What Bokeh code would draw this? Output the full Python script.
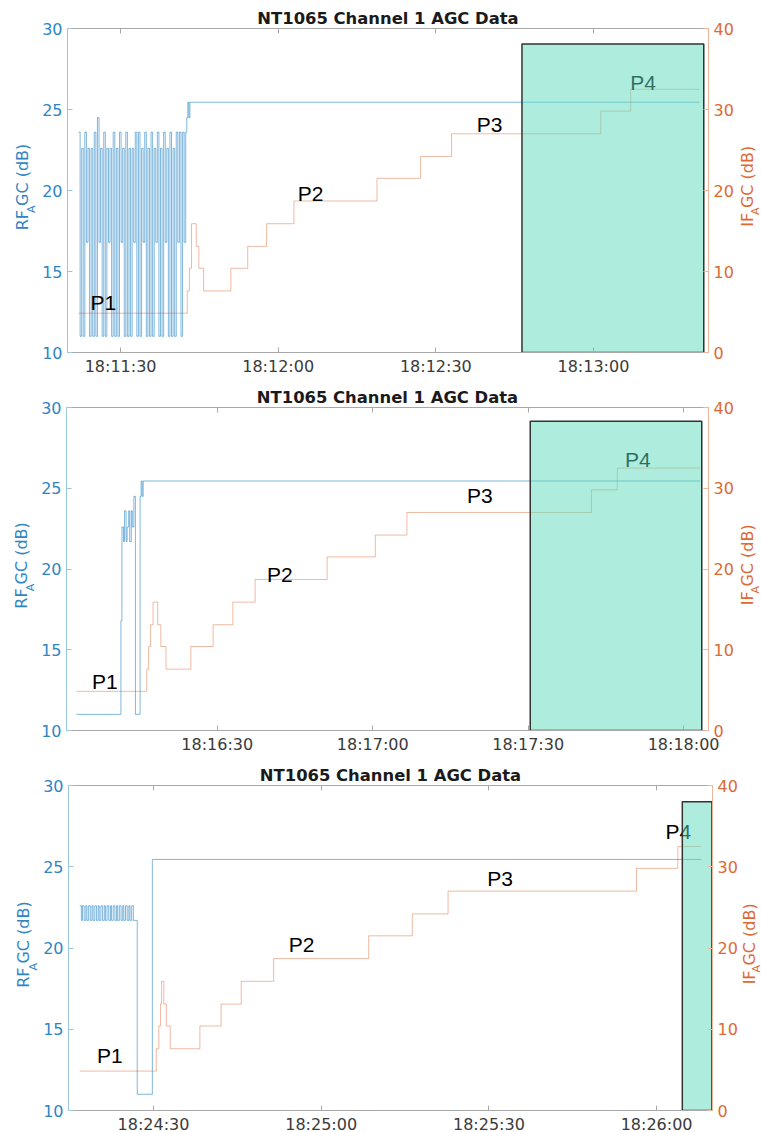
import math
import pandas as pd
from bokeh.plotting import figure
from bokeh.models import (Range1d, LinearAxis, DatetimeAxis, SingleIntervalTicker,
                          DatetimeTickFormatter, ColumnDataSource, CustomJSTickFormatter)
from bokeh.layouts import column, row
from bokeh.core.properties import value
from bokeh.embed import file_html
from bokeh.resources import INLINE

DAY = "2021-01-01 "
TITLE = "NT1065 Channel 1 AGC Data"
POINT_NAMES = ["P1", "P2", "P3", "P4"]
LEFT_LABEL = ["RF", "A", "GC (dB)"]
RIGHT_LABEL = ["IF", "A", "GC (dB)"]

# ---------------- Panel 1 (seconds after 18:11:00) ----------------
p1_base = "18:11:00"
p1_xlim = [19.9, 141.9]
p1_rf_t = [22.0, 22.3, 22.6, 22.9, 23.2, 23.5, 23.8, 24.1, 24.4, 24.7, 25.0, 25.3, 25.6, 25.9,
           26.2, 26.5, 26.8, 27.1, 27.4, 27.7, 28.0, 28.3, 28.6, 28.9, 29.2, 29.5, 29.8, 30.1,
           30.4, 30.7, 31.0, 31.3, 31.6, 31.9, 32.2, 32.5, 32.8, 33.1, 33.4, 33.7, 34.0, 34.3,
           34.6, 34.9, 35.2, 35.5, 35.8, 36.1, 36.4, 36.7, 37.0, 37.3, 37.6, 37.9, 38.2, 38.5,
           38.8, 39.1, 39.4, 39.7, 40.0, 40.3, 40.6, 40.9, 41.2, 41.5, 41.8, 42.1, 42.4, 42.6,
           42.8, 43.0, 43.2, 140.2]
p1_rf_v = [23.6, 11.0, 22.6, 11.0, 23.6, 16.8, 22.6, 11.0, 22.6, 11.0, 23.6, 11.0, 24.5, 16.8,
           22.6, 11.0, 23.6, 11.0, 22.6, 16.8, 22.6, 11.0, 23.6, 11.0, 22.6, 11.0, 23.6, 16.8,
           22.6, 11.0, 23.6, 11.0, 22.6, 11.0, 22.6, 16.8, 23.6, 11.0, 23.6, 11.0, 22.6, 16.8,
           23.6, 11.0, 22.6, 11.0, 23.6, 11.0, 22.6, 16.8, 23.6, 11.0, 22.6, 11.0, 23.6, 16.8,
           22.6, 11.0, 23.6, 11.0, 22.6, 11.0, 23.6, 16.8, 23.6, 11.0, 23.6, 16.8, 23.6, 24.5,
           25.45, 24.5, 25.45, 25.45]
p1_if_t = [22.0, 42.7, 43.1, 43.5, 44.4, 44.9, 45.8, 51.0, 54.2, 57.8, 63.0, 78.8, 87.1, 93.0,
           121.4, 127.1, 140.2]
p1_if_v = [4.85, 7.6, 10.4, 15.9, 13.1, 10.4, 7.6, 10.4, 13.1, 15.9, 18.7, 21.5, 24.2, 27.0,
           29.8, 32.5, 32.5]
p1_box = [106.4, 141.0, 0.0, 38.1]
p1_pt_t = [24.3, 63.7, 97.8, 127.0]
p1_pt_y = [6.2, 19.6, 28.1, 33.3]

# ---------------- Panel 2 (seconds after 18:16:00) ----------------
p2_base = "18:16:00"
p2_xlim = [0.9, 124.8]
p2_rf_t = [2.8, 11.4, 11.6, 11.9, 12.1, 12.4, 12.6, 12.9, 13.1, 13.4, 13.6, 13.9, 14.2, 15.1,
           15.3, 15.5, 15.7, 15.9, 123.2]
p2_rf_v = [11.0, 16.8, 22.6, 21.7, 23.6, 21.7, 22.6, 23.6, 21.7, 23.6, 22.6, 24.5, 11.0, 24.5,
           25.45, 24.5, 25.45, 25.45, 25.45]
p2_if_t = [2.8, 16.4, 16.75, 17.1, 17.6, 18.5, 19.1, 20.1, 24.9, 29.2, 33.0, 37.3, 51.2, 60.5,
           66.6, 102.2, 107.2, 123.2]
p2_if_v = [4.85, 7.6, 10.4, 13.1, 15.9, 13.1, 10.4, 7.6, 10.4, 13.1, 15.9, 18.7, 21.5, 24.2,
           27.0, 29.8, 32.5, 32.5]
p2_box = [90.4, 123.5, 0.0, 38.3]
p2_pt_t = [5.8, 39.6, 78.2, 108.7]
p2_pt_y = [6.1, 19.3, 29.1, 33.6]

# ---------------- Panel 3 (seconds after 18:24:00) ----------------
p3_base = "18:24:00"
p3_xlim = [14.8, 130.0]
p3_rf_t = [16.8, 17.1, 17.3, 17.6, 17.9, 18.1, 18.4, 18.7, 19.0, 19.2, 19.5, 19.8, 20.1, 20.3,
           20.6, 20.9, 21.2, 21.4, 21.7, 22.0, 22.3, 22.5, 22.8, 23.1, 23.4, 23.6, 23.9, 24.2,
           24.5, 24.7, 25.0, 25.3, 25.6, 25.8, 26.1, 26.4, 26.7, 27.1, 29.8, 128.0]
p3_rf_v = [22.6, 21.7, 22.6, 21.7, 22.6, 21.7, 22.6, 21.7, 22.6, 21.7, 22.6, 21.7, 22.6, 21.7,
           22.6, 21.7, 22.6, 21.7, 22.6, 21.7, 22.6, 21.7, 22.6, 21.7, 22.6, 21.7, 22.6, 21.7,
           22.6, 21.7, 22.6, 21.7, 22.6, 21.7, 22.6, 21.7, 21.7, 11.0, 25.45, 25.45]
p3_if_t = [16.8, 30.5, 30.95, 31.25, 31.45, 31.85, 32.3, 33.0, 38.3, 42.1, 45.7, 51.5, 68.5,
           76.3, 82.7, 116.4, 123.8, 128.0]
p3_if_v = [4.85, 7.6, 10.4, 13.1, 15.9, 13.1, 10.4, 7.6, 10.4, 13.1, 15.9, 18.7, 21.5, 24.2,
           27.0, 29.8, 32.5, 32.5]
p3_box = [124.6, 129.9, 0.0, 38.0]
p3_pt_t = [19.9, 54.2, 89.7, 121.6]
p3_pt_y = [6.8, 20.4, 28.5, 34.3]

BLUE = "#0072BD"
ORANGE = "#D95319"
BLUE_TXT = "#2f86c3"
ORANGE_TXT = "#dd6a35"
GRAY = "#a8a8a8"
FONT = "DejaVu Sans"
BOTTOM = 27
TOP = 28


def ts(base, secs):
    b = pd.Timestamp(DAY + base)
    return [b + pd.Timedelta(seconds=s) for s in secs]


def fmt():
    f = "%H:%M:%S"
    return DatetimeTickFormatter(microseconds=f, milliseconds=f, seconds=f, minsec=f,
                                 minutes=f, hourmin=f, hours=f)


def label_fig(width, height, words, color, cx_main, cx_sub, start_y):
    """Narrow strip holding a rotated axis title with a subscript letter."""
    f = figure(width=width, height=height, x_range=Range1d(0, width),
               y_range=Range1d(0, height), min_border=0, toolbar_location=None,
               output_backend="svg", x_axis_location=None, y_axis_location=None)
    f.outline_line_color = None
    f.xgrid.visible = False
    f.ygrid.visible = False
    f.background_fill_color = "white"
    f.border_fill_color = "white"
    main_size = 16
    sub_size = 11
    w0 = {"RF": 1.27, "IF": 0.87}[words[0]] * main_size
    w1 = 0.684 * sub_size + 0.5
    xs = [cx_main, cx_sub, cx_main]
    ys = [start_y, start_y + w0, start_y + w0 + w1]
    sizes = [f"{main_size}px", f"{sub_size}px", f"{main_size}px"]
    src = ColumnDataSource(dict(x=xs, y=ys, t=words, s=sizes))
    f.text(x="x", y="y", text="t", source=src, angle=math.pi / 2,
           text_font=value(FONT), text_font_size="s", text_color=color,
           text_align="left", text_baseline="middle")
    return f


def panel(base, xlim, rf_t, rf_v, if_t, if_v, box, pt_t, pt_y,
          fw, fh, top_b, left, right, lab_left_w, lab_right_w, lab_l, lab_r):
    xr = Range1d(*ts(base, xlim))
    p = figure(x_axis_type="datetime", x_range=xr, y_range=Range1d(10, 30),
               frame_width=fw, frame_height=fh, output_backend="svg",
               toolbar_location=None, min_border_left=left, min_border_right=right,
               min_border_top=top_b, min_border_bottom=BOTTOM)
    p.extra_y_ranges = {"right": Range1d(0, 40)}
    p.xgrid.visible = False
    p.ygrid.visible = False
    p.outline_line_color = None
    p.background_fill_color = "white"
    p.border_fill_color = "white"

    p.title.text = TITLE
    p.title.align = "center"
    p.title.text_font = FONT
    p.title.text_font_size = "16.4px"
    p.title.text_font_style = "bold"
    p.title.text_color = "#1a1a1a"
    p.title.standoff = 2

    xa = p.xaxis[0]
    xa.ticker = SingleIntervalTicker(interval=30000, num_minor_ticks=0)
    xa.formatter = fmt()
    xa.major_tick_in = 5
    xa.major_tick_out = 0
    xa.minor_tick_line_color = None
    xa.axis_line_color = GRAY
    xa.major_tick_line_color = GRAY
    xa.major_label_text_font = FONT
    xa.major_label_text_font_size = "16px"
    xa.major_label_text_color = "#3a3a3a"
    xa.major_label_standoff = 4

    top = DatetimeAxis(ticker=SingleIntervalTicker(interval=30000, num_minor_ticks=0),
                       formatter=CustomJSTickFormatter(code="return ''"),
                       major_tick_in=5, major_tick_out=0, minor_tick_line_color=None,
                       axis_line_color=GRAY, major_tick_line_color=GRAY,
                       major_label_standoff=0)
    p.add_layout(top, "above")

    ya = p.yaxis[0]
    ya.ticker = SingleIntervalTicker(interval=5, num_minor_ticks=0)
    ya.major_tick_in = 5
    ya.major_tick_out = 0
    ya.minor_tick_line_color = None
    ya.axis_line_color = "#9cc6e0"
    ya.major_tick_line_color = "#9cc6e0"
    ya.major_label_text_font = FONT
    ya.major_label_text_font_size = "16px"
    ya.major_label_text_color = BLUE_TXT
    ya.major_label_standoff = 5

    ra = LinearAxis(y_range_name="right",
                    ticker=SingleIntervalTicker(interval=10, num_minor_ticks=0),
                    major_tick_in=5, major_tick_out=0, minor_tick_line_color=None,
                    axis_line_color="#efb59a", major_tick_line_color="#efb59a",
                    major_label_text_font=FONT, major_label_text_font_size="16px",
                    major_label_text_color=ORANGE_TXT, major_label_standoff=5)
    p.add_layout(ra, "right")

    p.step(ts(base, rf_t), rf_v, mode="after", line_color=BLUE, line_alpha=0.5,
           line_width=1)
    p.step(ts(base, if_t), if_v, mode="after", line_color=ORANGE, line_alpha=0.4,
           line_width=1, y_range_name="right")

    src = ColumnDataSource(dict(x=ts(base, pt_t), y=pt_y, t=POINT_NAMES))
    p.text(x="x", y="y", text="t", source=src, y_range_name="right",
           text_font=value("Liberation Sans"), text_font_size="21px",
           text_color="black", text_align="left", text_baseline="middle")

    bx = ts(base, box[:2])
    p.quad(left=[bx[0]], right=[bx[1]], bottom=[box[2]], top=[box[3]],
           y_range_name="right", fill_color="#5ddbbb", fill_alpha=0.5,
           line_color="#333333", line_width=1.5)

    total_h = top_b + fh + BOTTOM
    lf = label_fig(lab_left_w, total_h, LEFT_LABEL, BLUE_TXT, lab_l[0], lab_l[1],
                   BOTTOM + fh / 2 - 46)
    rf = label_fig(lab_right_w, total_h, RIGHT_LABEL, ORANGE_TXT, lab_r[0], lab_r[1],
                   BOTTOM + fh / 2 - 42)
    return row(lf, p, rf, spacing=0)


f1 = panel(p1_base, p1_xlim, p1_rf_t, p1_rf_v, p1_if_t, p1_if_v, p1_box, p1_pt_t, p1_pt_y,
           641, 324, TOP, 29, 27, 38, 26, (21.7, 30.8), (11.0, 18.8))
f2 = panel(p2_base, p2_xlim, p2_rf_t, p2_rf_v, p2_if_t, p2_if_v, p2_box, p2_pt_t, p2_pt_y,
           642, 323, TOP, 28, 27, 38, 26, (20.5, 30.0), (11.0, 18.8))
f3 = panel(p3_base, p3_xlim, p3_rf_t, p3_rf_v, p3_if_t, p3_if_v, p3_box, p3_pt_t, p3_pt_y,
           644, 325, TOP, 30, 26, 38, 23, (23.0, 32.5), (9.0, 16.0))

layout = column(f1, f2, f3, spacing=0)
open("out.html", "w").write(file_html(layout, INLINE))
